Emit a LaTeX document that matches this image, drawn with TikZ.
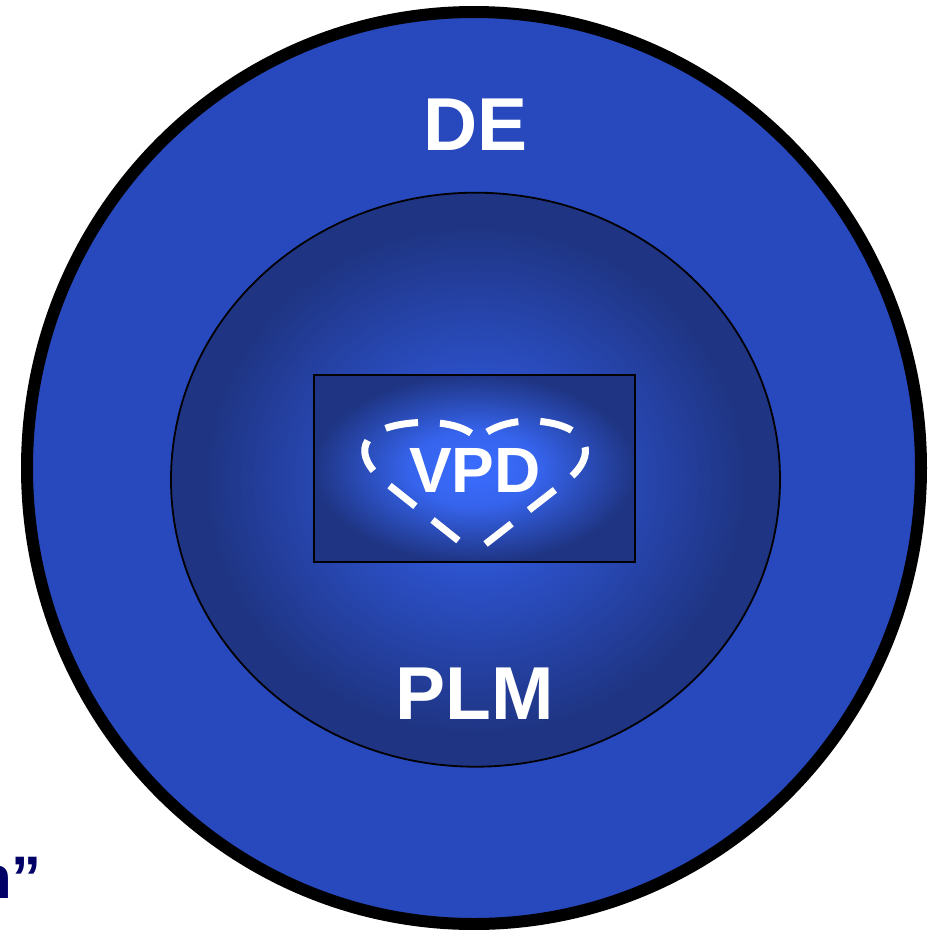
\documentclass[tikz,border=0pt]{standalone}
\usepackage{fontspec}
\setmainfont{Liberation Sans}
\usetikzlibrary{shadings}

\definecolor{ringblue}{HTML}{2849BD}
\definecolor{glowblue}{HTML}{3A6CFF}
\definecolor{midblue}{HTML}{2B4FC6}
\definecolor{navyblue}{HTML}{1F3584}
\definecolor{inkblue}{HTML}{000066}

\pgfdeclareradialshading{plmglow}{\pgfpoint{0bp}{0bp}}{color(0bp)=(glowblue); color(9bp)=(midblue); color(22bp)=(navyblue); color(50bp)=(navyblue)}
\pgfdeclareradialshading{vpdglow}{\pgfpoint{0bp}{0bp}}{color(0bp)=(glowblue); color(10bp)=(glowblue!85!navyblue); color(25bp)=(navyblue); color(50bp)=(navyblue)}

\tikzset{
  bigword/.style={font=\bfseries\fontsize{75}{75}\selectfont, text=white, inner sep=0pt},
  heartline/.style={draw=white, line width=7pt, dash pattern=on 33pt off 22pt, dash phase=35pt},
}

\begin{document}
\begin{tikzpicture}[x=1pt,y=-1pt]
  \useasboundingbox (0,0) rectangle (928,930);

  % outer ring
  \fill[ringblue] (474,468) ellipse [x radius=447, y radius=456];
  \draw[line width=12pt] (474,468) ellipse [x radius=447, y radius=456];

  % inner ellipse
  \shade[shading=plmglow] (475.5,479.7) ellipse [x radius=304.5, y radius=287];
  \draw[line width=1.8pt] (475.5,479.7) ellipse [x radius=304.5, y radius=287];

  % box
  \shade[shading=vpdglow] (314,375) rectangle (635,562);
  \draw[line width=2.4pt] (314,375) rectangle (635,562);

  % dashed heart
  \draw[heartline] (474,553) -- (385,482)
      .. controls (352,455) and (358,428) .. (412,423)
      .. controls (445,420) and (470,428) .. (478,440)
      .. controls (490,425) and (520,418) .. (545,422)
      .. controls (588,428) and (600,455) .. (565,482) -- cycle;

  \node[bigword] (de) at (475.5,125) {DE};
  \node[bigword] (plm) at (475,694) {PLM};
  \node[bigword, font=\bfseries\fontsize{64}{64}\selectfont] (vpd) at (475,470) {VPD};

  \node[anchor=base east, inner sep=0pt, text=inkblue,
        font=\bfseries\fontsize{60}{60}\selectfont] (quote) at (42,898) {n”};
\end{tikzpicture}
\end{document}
